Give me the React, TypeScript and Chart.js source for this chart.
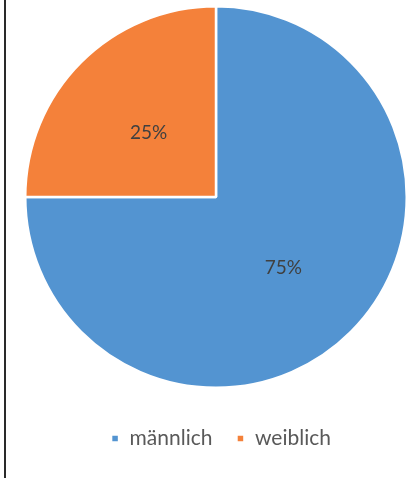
import React, { useEffect, useRef } from "react";
import { Chart, registerables } from "chart.js";

Chart.register(...registerables);

const categories = ["männlich", "weiblich"];
const values = [75, 25];
const percentLabels = ["75%", "25%"];
const colors = ["#5394D1", "#F4813A"];

const LEGEND_PAD = 24;
const LEGEND_H = 60;
const LEGEND_TEXT_Y = 440;
const LEGEND_SHIFT_X = 5;

const labelPlugin = {
  id: "sliceLabels",
  afterDatasetsDraw(chart: any) {
    const ctx = chart.ctx;
    const meta = chart.getDatasetMeta(0);
    ctx.save();
    ctx.fillStyle = "#404040";
    ctx.font = "19px Lato";
    ctx.textAlign = "center";
    ctx.textBaseline = "middle";
    meta.data.forEach((arc: any, i: number) => {
      const p = arc.tooltipPosition();
      ctx.fillText(percentLabels[i], p.x, p.y + 3);
    });
    ctx.restore();
  },
};

const legendPlace = {
  id: "legendPlace",
  beforeInit(chart: any) {
    const lg = chart.legend;
    if (!lg) return;
    const orig = lg.fit;
    lg.fit = function () {
      orig.call(this);
      this.height = LEGEND_H;
    };
  },
  afterLayout(chart: any) {
    const lg = chart.legend;
    if (!lg) return;
    const shift = LEGEND_TEXT_Y - (lg.top + LEGEND_PAD + 12);
    lg.top += shift;
    lg.bottom += shift;
    lg.left += LEGEND_SHIFT_X;
    lg.right += LEGEND_SHIFT_X;
  },
};

export default function App() {
  const ref = useRef<HTMLCanvasElement>(null);
  useEffect(() => {
    document.body.style.margin = "0";
    const chart = new Chart(ref.current!, {
      type: "pie",
      data: {
        labels: categories,
        datasets: [
          {
            data: values,
            backgroundColor: colors,
            borderColor: "#ffffff",
            borderWidth: 2.5,
          },
        ],
      },
      options: {
        animation: false,
        responsive: false,
        maintainAspectRatio: false,
        layout: { padding: { left: 24, right: 10, top: 5, bottom: 478 - 389 - LEGEND_H } },
        plugins: {
          tooltip: { enabled: false },
          legend: {
            position: "bottom",
            labels: {
              boxWidth: 8,
              boxHeight: 8,
              padding: LEGEND_PAD,
              color: "#595959",
              font: { family: "Lato", size: 21 },
            },
          },
        },
      },
      plugins: [legendPlace, labelPlugin],
    });
    return () => chart.destroy();
  }, []);
  return (
    <div style={{ position: "relative", width: 418, height: 478, background: "#fff" }}>
      <div style={{ position: "absolute", left: 4, top: 0, width: 2, height: 478, background: "#2a2a2a" }} />
      <canvas ref={ref} width={418} height={478} style={{ position: "absolute", left: 0, top: 0 }} />
    </div>
  );
}
